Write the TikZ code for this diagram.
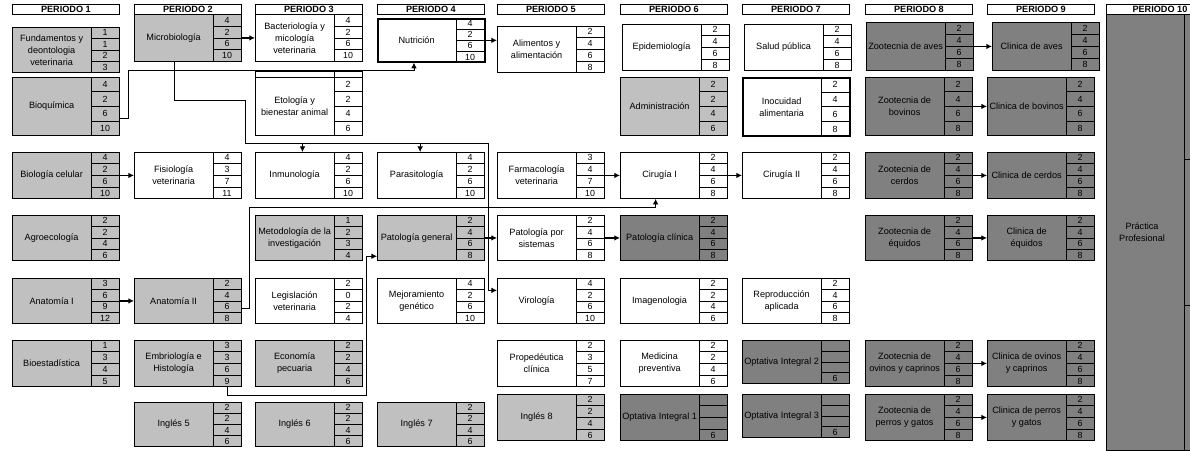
\documentclass[tikz,border=0pt]{standalone}
\usepackage{fontspec}
\setmainfont{Liberation Sans}
\usetikzlibrary{positioning}
\usetikzlibrary{calc}
\usetikzlibrary{arrows.meta}
\definecolor{lightGray}{RGB}{192,192,192}
\definecolor{darkGray}{RGB}{128,128,128}

% one subject: name, style, left, top, height, text, credits
\newcommand{\asignatura}[7]{%
  \node[#2, minimum height=#5*0.025cm, anchor=north west] (#1) at (#3,#4) {};
  \node[textNode] at ([xshift=0.99cm]#1.west) {#6};
  \draw[cellLine] ([xshift=1.975cm]#1.north west) -- ([xshift=1.975cm]#1.south west);
  \foreach \k in {1,2,3}
    \draw[cellLine] ($([xshift=1.975cm]#1.north west)!\k/4!([xshift=1.975cm]#1.south west)$) -- ($(#1.north east)!\k/4!(#1.south east)$);
  \foreach \v [count=\k] in {#7}
    \node[numNode] at ($([xshift=2.325cm]#1.north west)!\k/4-0.125!([xshift=2.325cm]#1.south west)$) {\v};
}

\begin{document}
\begin{tikzpicture}[x=0.025cm,y=-0.025cm]

          \tikzstyle{whiteBox} = [draw, fill=white, line width=0.6pt, inner sep=0pt, minimum width=2.675cm];
          \tikzstyle{lightBox} = [whiteBox, fill=lightGray];
          \tikzstyle{darkBox} = [whiteBox, fill=darkGray];
          \tikzstyle{thickBox} = [whiteBox, line width=1.2pt];
          \tikzstyle{textNode} = [align=center, inner sep=0pt, font=\fontsize{6.5}{8.5}\selectfont];
          \tikzstyle{numNode} = [inner sep=0pt, font=\fontsize{6.3}{7}\selectfont];
          \tikzstyle{cellLine} = [line width=0.6pt];
          \tikzstyle{periodNode} = [draw, fill=white, line width=0.6pt, minimum width=2.675cm, minimum height=0.25cm, inner sep=0pt, anchor=north west, font=\bfseries\fontsize{6.5}{7}\selectfont];
          \tikzstyle{link} = [line width=1pt, -{Latex[length=4pt,width=4pt]}];
          \tikzstyle{route} = [line width=0.6pt, -{Latex[length=4pt,width=4pt]}];

          \useasboundingbox (0,0) rectangle (1190,450);
          \clip (0,0) rectangle (1190,450);
          \fill[white] (0,0) rectangle (1190,450);

          % periods
          \foreach \px [count=\n] in {12,134,255,377,497,620,742,865,987,1106}
            \node[periodNode] (per\n) at (\px,4) {PERIODO \n};

          % periodo 1
          \asignatura{fund}{lightBox}{12}{27}{45}{Fundamentos y\\deontologia\\veterinaria}{1,1,2,3}
          \asignatura{bioq}{lightBox}{12}{77}{58}{Bioquímica}{4,2,6,10}
          \asignatura{biocel}{lightBox}{12}{152}{46}{Biología celular}{4,2,6,10}
          \asignatura{agro}{lightBox}{12}{215}{45}{Agroecología}{2,2,4,6}
          \asignatura{anatA}{lightBox}{12}{278}{45}{Anatomía I}{3,6,9,12}
          \asignatura{bioest}{lightBox}{12}{340}{46}{Bioestadística}{1,3,4,5}

          % periodo 2
          \asignatura{micro}{lightBox}{134}{14}{47}{Microbiología}{4,2,6,10}
          \asignatura{fisio}{whiteBox}{134}{152}{46}{Fisiología\\veterinaria}{4,3,7,11}
          \asignatura{anatB}{lightBox}{134}{278}{45}{Anatomía II}{2,4,6,8}
          \asignatura{embrio}{lightBox}{134}{340}{46}{Embriología e\\Histología}{3,3,6,9}
          \asignatura{ingA}{lightBox}{134}{402}{44}{Inglés 5}{2,2,4,6}

          % periodo 3
          \asignatura{bact}{whiteBox}{255}{14}{47}{Bacteriología y\\micología\\veterinaria}{4,2,6,10}
          \asignatura{etol}{whiteBox}{255}{77}{58}{Etología y\\bienestar animal}{2,2,4,6}
          \draw[cellLine] (etol.north west) -- ++(0,-6) -| (etol.north east);
          \draw[cellLine] ([xshift=1.975cm]etol.north west) -- ++(0,-6);
          \asignatura{inmu}{whiteBox}{255}{152}{46}{Inmunología}{4,2,6,10}
          \asignatura{metod}{lightBox}{255}{215}{45}{Metodología de la\\investigación}{1,2,3,4}
          \asignatura{legis}{whiteBox}{255}{278}{45}{Legislación\\veterinaria}{2,0,2,4}
          \asignatura{econ}{lightBox}{255}{340}{46}{Economía\\pecuaria}{2,2,4,6}
          \asignatura{ingB}{lightBox}{255}{402}{44}{Inglés 6}{2,2,4,6}

          % periodo 4
          \asignatura{nutri}{thickBox}{377}{18}{43}{Nutrición}{4,2,6,10}
          \asignatura{parasit}{whiteBox}{377}{152}{46}{Parasitología}{4,2,6,10}
          \asignatura{patgen}{lightBox}{377}{215}{45}{Patología general}{2,4,6,8}
          \asignatura{mejora}{whiteBox}{377}{278}{45}{Mejoramiento\\genético}{4,2,6,10}
          \asignatura{ingC}{lightBox}{377}{402}{44}{Inglés 7}{2,2,4,6}

          % periodo 5
          \asignatura{alim}{whiteBox}{497}{26}{46}{Alimentos y\\alimentación}{2,4,6,8}
          \asignatura{farma}{whiteBox}{497}{152}{46}{Farmacología\\veterinaria}{3,4,7,10}
          \asignatura{patsis}{whiteBox}{497}{215}{45}{Patología por\\sistemas}{2,4,6,8}
          \asignatura{viro}{whiteBox}{497}{278}{45}{Virología}{4,2,6,10}
          \asignatura{proped}{whiteBox}{497}{340}{46}{Propedéutica\\clínica}{2,3,5,7}
          \asignatura{ingD}{lightBox}{497}{394}{46}{Inglés 8}{2,2,4,6}

          % periodo 6
          \asignatura{epide}{whiteBox}{622}{24}{46}{Epidemiología}{2,4,6,8}
          \asignatura{admin}{lightBox}{620}{77}{58}{Administración}{2,2,4,6}
          \asignatura{ciruA}{whiteBox}{620}{152}{46}{Cirugía I}{2,4,6,8}
          \asignatura{patcli}{darkBox}{620}{215}{45}{Patología clínica}{2,4,6,8}
          \asignatura{imagen}{whiteBox}{620}{278}{45}{Imagenologia}{2,2,4,6}
          \asignatura{medprev}{whiteBox}{620}{340}{46}{Medicina\\preventiva}{2,2,4,6}
          \asignatura{optA}{darkBox}{620}{394}{46}{Optativa Integral 1}{{},{},{},6}

          % periodo 7
          \asignatura{salud}{whiteBox}{744}{24}{46}{Salud pública}{2,4,6,8}
          \asignatura{inocu}{thickBox}{742}{77}{58}{Inocuidad\\alimentaria}{2,4,6,8}
          \asignatura{ciruB}{whiteBox}{742}{152}{46}{Cirugía II}{2,4,6,8}
          \asignatura{repro}{whiteBox}{742}{278}{45}{Reproducción\\aplicada}{2,4,6,8}
          \asignatura{optB}{darkBox}{742}{340}{43}{Optativa Integral 2}{{},{},{},6}
          \asignatura{optC}{darkBox}{742}{394}{43}{Optativa Integral 3}{{},{},{},6}

          % periodo 8
          \asignatura{zAves}{darkBox}{866}{22}{48}{Zootecnia de aves}{2,4,6,8}
          \asignatura{zBov}{darkBox}{865}{77}{58}{Zootecnia de\\bovinos}{2,4,6,8}
          \asignatura{zCer}{darkBox}{865}{152}{46}{Zootecnia de\\cerdos}{2,4,6,8}
          \asignatura{zEqu}{darkBox}{865}{215}{45}{Zootecnia de\\équidos}{2,4,6,8}
          \asignatura{zOvi}{darkBox}{865}{340}{46}{Zootecnia de\\ovinos y caprinos}{2,4,6,8}
          \asignatura{zPer}{darkBox}{865}{394}{46}{Zootecnia de\\perros y gatos}{2,4,6,8}

          % periodo 9
          \asignatura{cAves}{darkBox}{992}{22}{48}{Clinica de aves}{2,4,6,8}
          \asignatura{cBov}{darkBox}{987}{77}{58}{Clinica de bovinos}{2,4,6,8}
          \asignatura{cCer}{darkBox}{987}{152}{46}{Clinica de cerdos}{2,4,6,8}
          \asignatura{cEqu}{darkBox}{987}{215}{45}{Clinica de\\équidos}{2,4,6,8}
          \asignatura{cOvi}{darkBox}{987}{340}{46}{Clinica de ovinos\\y caprinos}{2,4,6,8}
          \asignatura{cPer}{darkBox}{987}{394}{46}{Clinica de perros\\y gatos}{2,4,6,8}

          % periodo 10
          \node[darkBox, minimum height=436*0.025cm, anchor=north west] (practica) at (1106,14) {};
          \node[textNode] at ([xshift=0.9cm]practica.west) {Práctica\\Profesional};
          \draw[cellLine] ([xshift=1.95cm]practica.north west) -- ([xshift=1.95cm]practica.south west);
          \foreach \k in {1,2}
            \draw[cellLine] ($([xshift=1.95cm]practica.north west)!\k/3!([xshift=1.95cm]practica.south west)$) -- ($(practica.north east)!\k/3!(practica.south east)$);

          % direct links
          \draw[link] (micro.east) -- (micro.east -| bact.west);
          \draw[link] (nutri.east) -- (nutri.east -| alim.west);
          \draw[link] (biocel.east) -- (biocel.east -| fisio.west);
          \draw[link] (anatA.east) -- (anatA.east -| anatB.west);
          \draw[link] (farma.east) -- (farma.east -| ciruA.west);
          \draw[link] (ciruA.east) -- (ciruA.east -| ciruB.west);
          \draw[link] (patgen.east) -- (patgen.east -| patsis.west);
          \draw[link] (patsis.east) -- (patsis.east -| patcli.west);
          \draw[link] (zAves.east) -- (zAves.east -| cAves.west);
          \draw[link] (zBov.east) -- (zBov.east -| cBov.west);
          \draw[link] (zCer.east) -- (zCer.east -| cCer.west);
          \draw[link] (zEqu.east) -- (zEqu.east -| cEqu.west);
          \draw[link] (zOvi.east) -- (zOvi.east -| cOvi.west);
          \draw[link] (zPer.east) -- (zPer.east -| cPer.west);

          % routed links
          \coordinate (bioqOut) at ($(bioq.north east)!0.7!(bioq.south east)$);
          \coordinate (nutriIn) at ($(nutri.south west)!0.34!(nutri.south east)$);
          \coordinate (codoA) at (128,70);
          \draw[route] (bioqOut) -| (codoA) -| (nutriIn);

          \coordinate (microOut) at ($(micro.south west)!0.375!(micro.south east)$);
          \coordinate (codoB) at (245,100);
          \coordinate (codoC) at (488,143);
          \coordinate (viroIn) at ($(viro.north west)!0.27!(viro.south west)$);
          \coordinate (inmuIn) at ($(inmu.north west)!0.44!(inmu.north east)$);
          \coordinate (parasitIn) at ($(parasit.north west)!0.4!(parasit.north east)$);
          \draw[route] (microOut) |- (codoB) |- (codoC) |- (viroIn);
          \draw[route] (inmuIn |- codoC) -- (inmuIn);
          \draw[route] (parasitIn |- codoC) -- (parasitIn);

          \coordinate (anatBOut) at ($(anatB.north east)!0.67!(anatB.south east)$);
          \coordinate (codoD) at (249,207);
          \coordinate (ciruAIn) at ($(ciruA.south west)!0.33!(ciruA.south east)$);
          \draw[route] (anatBOut) -| (codoD) -| (ciruAIn);

          \coordinate (embrioOut) at ($(embrio.south west)!0.87!(embrio.south east)$);
          \coordinate (codoE) at (366,395);
          \coordinate (patgenIn) at ($(patgen.north west)!0.9!(patgen.south west)$);
          \draw[route] (embrioOut) |- (codoE) |- (patgenIn);
        \end{tikzpicture}
\end{document}
